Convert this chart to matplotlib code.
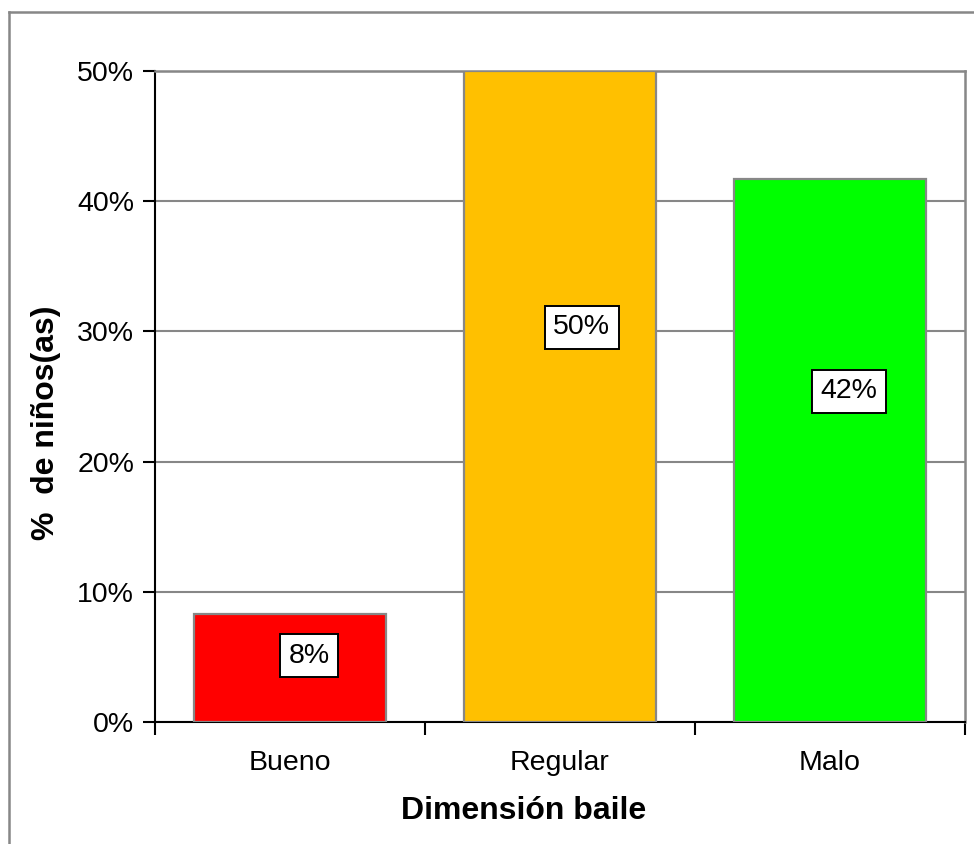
import matplotlib.pyplot as plt
from matplotlib.lines import Line2D
from matplotlib.ticker import FuncFormatter

plt.rcParams['font.family'] = ['Liberation Sans', 'DejaVu Sans']

# data
categories = ['Bueno', 'Regular', 'Malo']
values = [8.33, 50.0, 41.67]
bar_colors = ['#FF0000', '#FFC000', '#00FF00']
value_labels = ['8%', '50%', '42%']
# label positions as placed in the original chart (x offset, y in %)
label_dx = [0.07, 1.08 - 1, 2.07 - 2]
label_y = [5.1, 30.3, 25.4]

fig = plt.figure(figsize=(9.74, 8.44), dpi=100)
ax = fig.add_axes([155 / 974, 122 / 844, 810 / 974, 651 / 844])

x = list(range(len(categories)))
ax.bar(x, values, width=0.71, color=bar_colors, edgecolor='#878787', linewidth=1.6, zorder=3)

for i in x:
    ax.text(i + label_dx[i], label_y[i], value_labels[i], ha='center', va='center',
            fontsize=20.5, zorder=4,
            bbox=dict(boxstyle='square,pad=0.3', facecolor='white', edgecolor='black', linewidth=1.4))

ax.set_xlim(-0.5, 2.5)
ax.set_ylim(0, 50)
ax.set_yticks([0, 10, 20, 30, 40, 50])
ax.yaxis.set_major_formatter(FuncFormatter(lambda v, p: '%d%%' % v))
ax.yaxis.grid(True, color='#878787', linewidth=1.5, zorder=0)

ax.set_xticks(x)
ax.set_xticklabels(categories)
ax.set_xticks([-0.5, 0.5, 1.5, 2.5], minor=True)
ax.tick_params(axis='x', which='major', length=0, pad=20, labelsize=20.5)
ax.tick_params(axis='x', which='minor', length=9, width=1.5, direction='out')
ax.tick_params(axis='y', length=9, width=1.5, direction='out', pad=6, labelsize=20.5)

for side in ['left', 'bottom']:
    ax.spines[side].set_color('black')
    ax.spines[side].set_linewidth(1.5)
for side in ['top', 'right']:
    ax.spines[side].set_color('#878787')
    ax.spines[side].set_linewidth(1.8)

fig.text(524 / 974, 1 - 811 / 844, 'Dimensión baile', ha='center', va='center',
         fontsize=23, fontweight='bold')
fig.text(46 / 974, 1 - 423 / 844, '%  de niños(as)', ha='center', va='center',
         rotation=90, fontsize=23, fontweight='bold')

# outer chart frame
fig.add_artist(Line2D([9 / 974, 1.0], [1 - 12 / 844, 1 - 12 / 844], transform=fig.transFigure,
                      color='#878787', linewidth=1.8))
fig.add_artist(Line2D([9 / 974, 9 / 974], [0.0, 1 - 12 / 844], transform=fig.transFigure,
                      color='#878787', linewidth=1.8))

fig.savefig('out.png', dpi=100)
